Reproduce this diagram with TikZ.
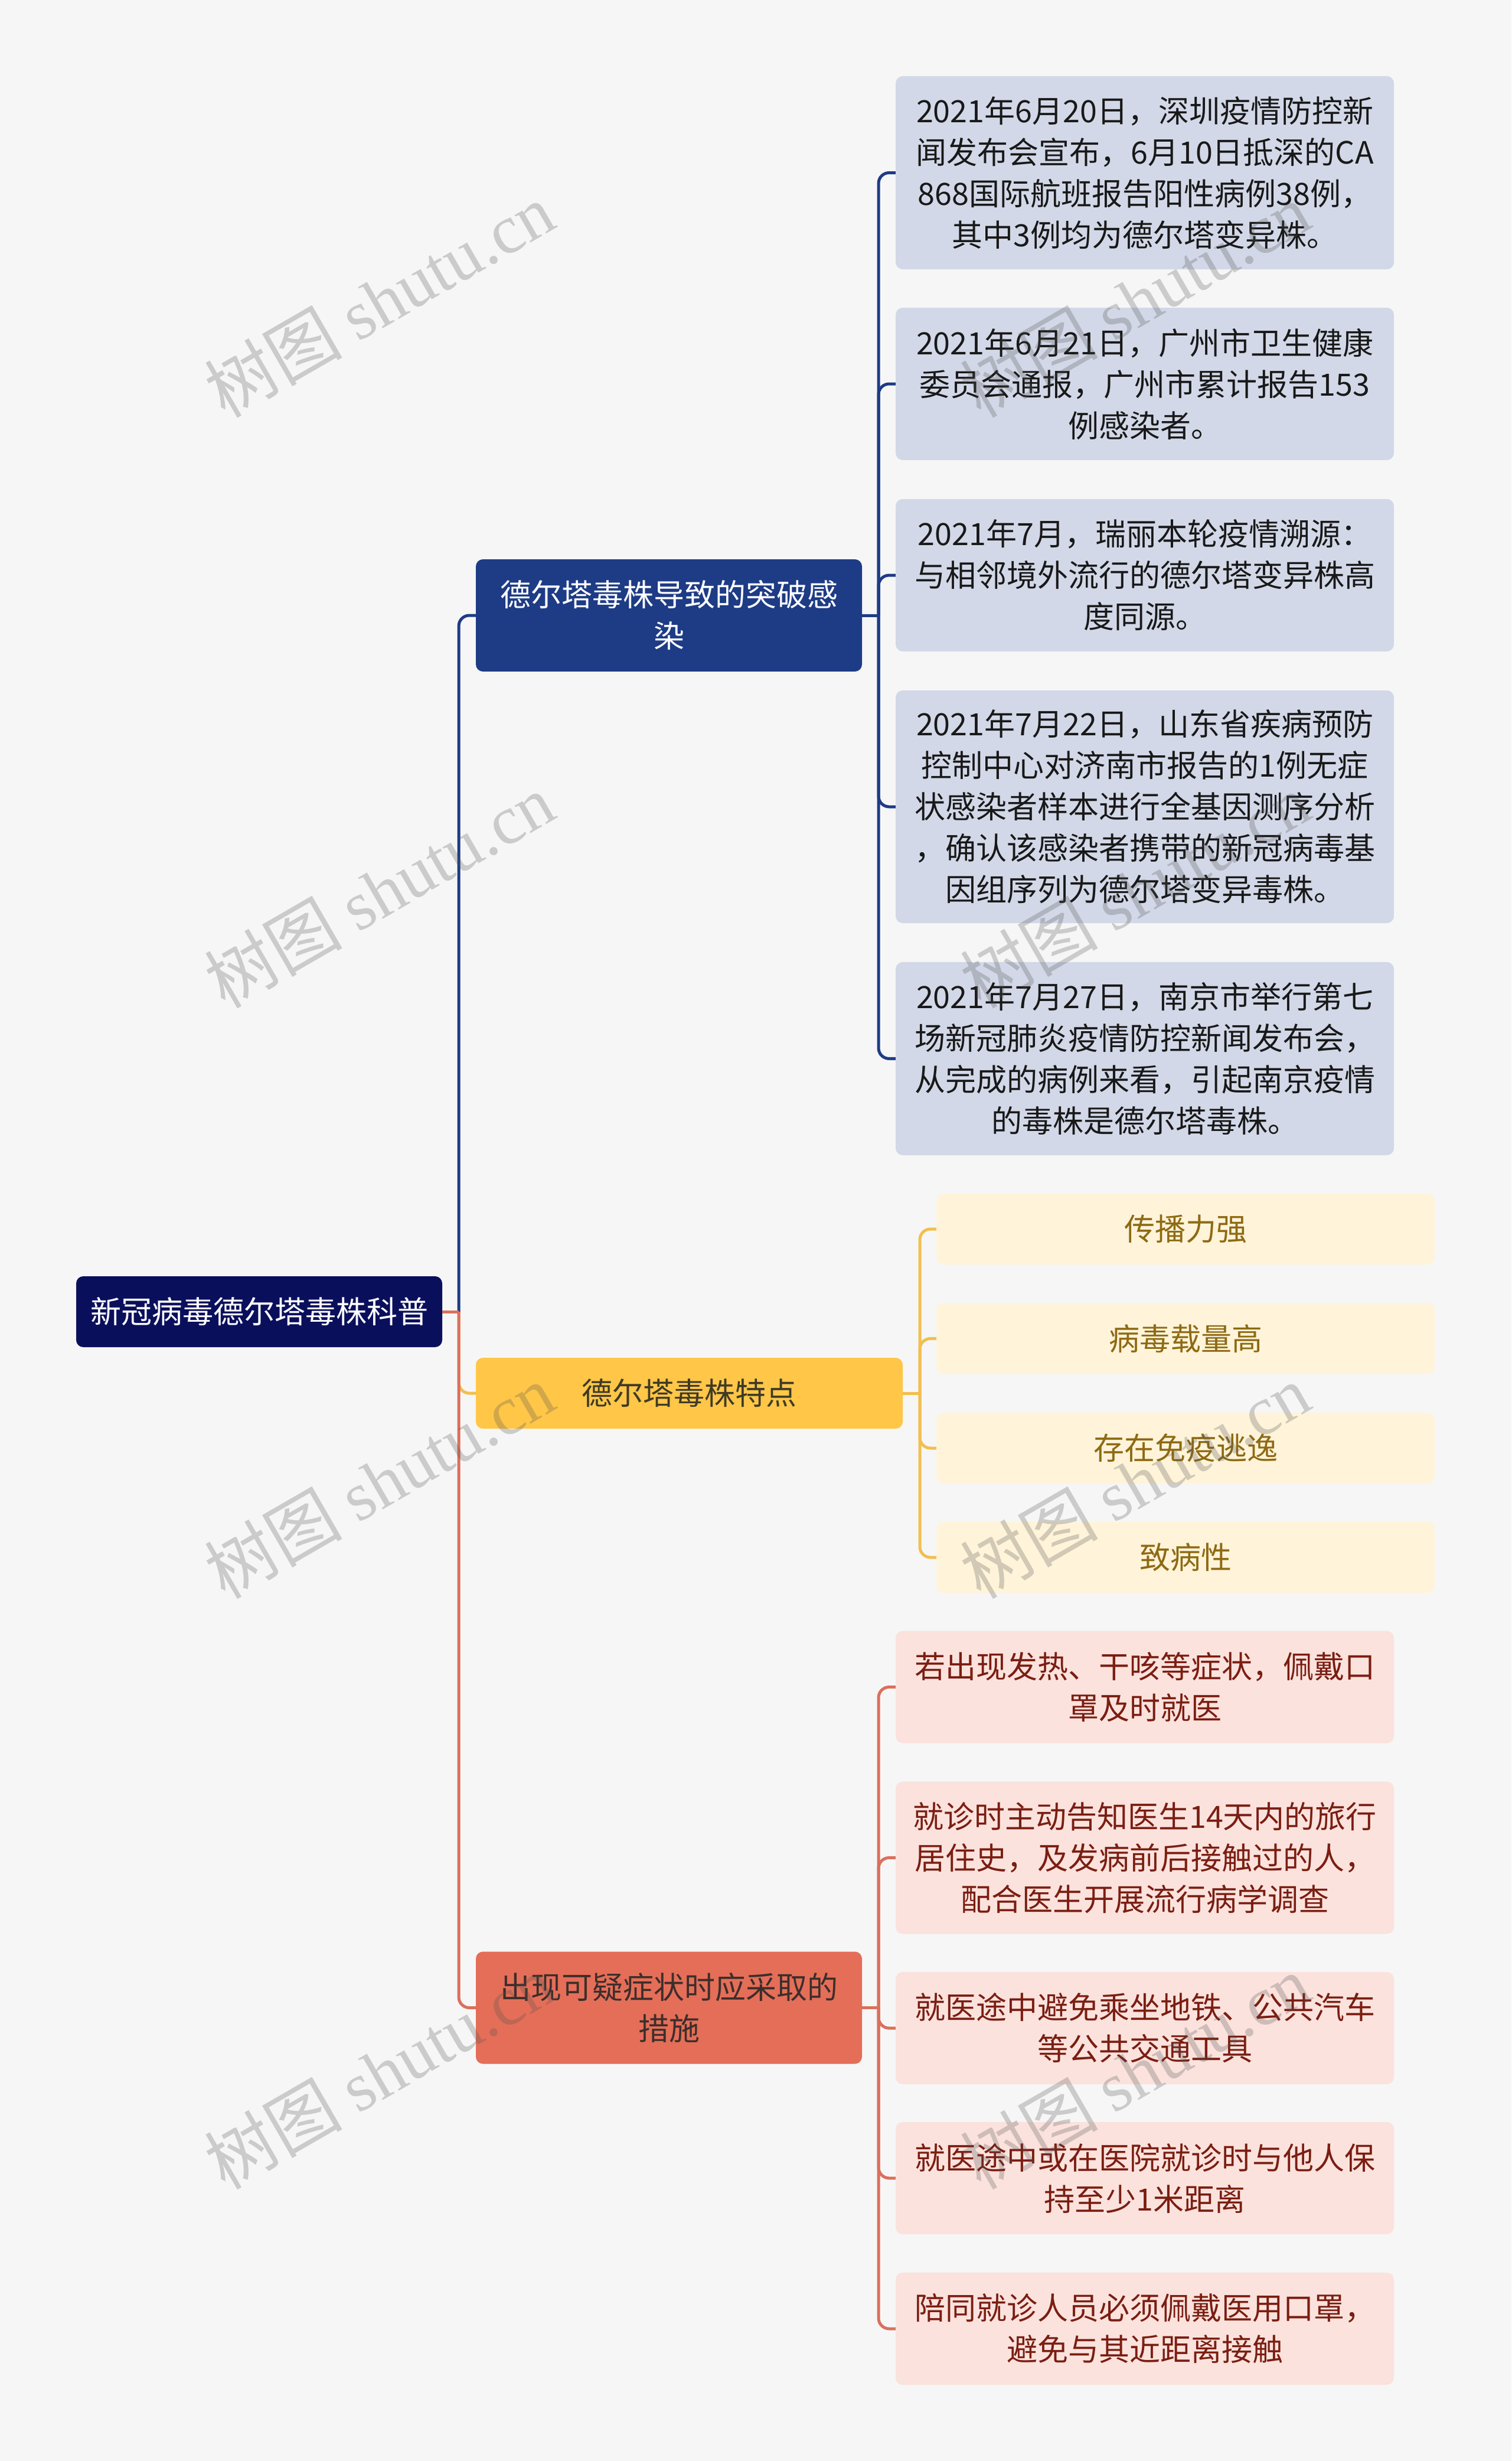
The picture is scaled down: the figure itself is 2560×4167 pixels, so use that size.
\documentclass[tikz,border=0pt]{standalone}
\usepackage{fontspec}
\setmainfont{Noto Sans CJK SC}
\newfontfamily\wmserif{Liberation Serif}

\definecolor{pagebg}{HTML}{F6F6F6}
\definecolor{rootfill}{HTML}{0A0F5C}
\definecolor{bluefill}{HTML}{1E3B85}
\definecolor{yellowfill}{HTML}{FFC648}
\definecolor{redfill}{HTML}{E46E58}
\definecolor{blueleaf}{HTML}{D2D8E7}
\definecolor{yellowleaf}{HTML}{FFF4D9}
\definecolor{redleaf}{HTML}{FBE2DD}
\definecolor{yellowtext}{HTML}{8F6A14}
\definecolor{redtext}{HTML}{7B1E12}
\definecolor{darkbrown}{HTML}{3D2E2B}
\definecolor{darkolive}{HTML}{3F3A25}
\definecolor{wmgray}{HTML}{505050}

\tikzset{
    box/.style={rounded corners=12pt, inner sep=0pt, align=center,
        minimum height=120pt, font=\fontsize{52}{70}\selectfont},
    tworow/.style={minimum height=190pt},
    threerow/.style={minimum height=258pt},
    fourrow/.style={minimum height=327pt},
    fiverow/.style={minimum height=394pt},
    bluenode/.style={box, fill=blueleaf, text=black!90, minimum width=844pt},
    yellownode/.style={box, fill=yellowleaf, text=yellowtext, minimum width=844pt},
    rednode/.style={box, fill=redleaf, text=redtext, minimum width=844pt},
    bluelink/.style={draw=bluefill, line width=5pt},
    yellowlink/.style={draw=yellowfill!90!gray, line width=5pt},
    redlink/.style={draw=redfill!90!gray, line width=5pt},
    wmark/.style={rotate=30, inner sep=0pt, text=wmgray, text opacity=0.26,
        font=\fontsize{117}{117}\selectfont},
}

\begin{document}
\begin{tikzpicture}[x=1pt, y=-1pt]
    \def\leafx{1939} % centre of the blue and red leaves
    \def\yleafx{2008}
    \fill[pagebg] (0,0) rectangle (2560,4167);

    \coordinate (hubroot) at (777,2221);
    \coordinate (hubblue) at (1488,1042);
    \coordinate (hubyellow) at (1558,2359);
    \coordinate (hubred) at (1488,3399.5);

    \node[box, fill=rootfill, text=white, minimum width=620pt] (root) at (439,2221) {新冠病毒德尔塔毒株科普};
    \node[box, tworow, fill=bluefill, text=white, minimum width=654pt] (bluemain) at (1133,1042) {德尔塔毒株导致的突破感\\染};
    \node[box, fill=yellowfill, text=darkolive, minimum width=723pt] (yellowmain) at (1167.5,2359) {德尔塔毒株特点};
    \node[box, tworow, fill=redfill, text=darkbrown, minimum width=654pt] (redmain) at (1133,3399.5) {出现可疑症状时应采取的\\措施};

    \node[bluenode, fourrow] (blueA) at (\leafx,292.5) {2021年6月20日，深圳疫情防控新\\闻发布会宣布，6月10日抵深的CA\\868国际航班报告阳性病例38例，\\其中3例均为德尔塔变异株。};
    \node[bluenode, threerow] (blueB) at (\leafx,650) {2021年6月21日，广州市卫生健康\\委员会通报，广州市累计报告153\\例感染者。};
    \node[bluenode, threerow] (blueC) at (\leafx,974) {2021年7月，瑞丽本轮疫情溯源：\\与相邻境外流行的德尔塔变异株高\\度同源。};
    \node[bluenode, fiverow] (blueD) at (\leafx,1366) {2021年7月22日，山东省疾病预防\\控制中心对济南市报告的1例无症\\状感染者样本进行全基因测序分析\\，确认该感染者携带的新冠病毒基\\因组序列为德尔塔变异毒株。};
    \node[bluenode, fourrow] (blueE) at (\leafx,1792.5) {2021年7月27日，南京市举行第七\\场新冠肺炎疫情防控新闻发布会，\\从完成的病例来看，引起南京疫情\\的毒株是德尔塔毒株。};

    \node[yellownode] (yellowA) at (\yleafx,2081) {传播力强};
    \node[yellownode] (yellowB) at (\yleafx,2266.5) {病毒载量高};
    \node[yellownode] (yellowC) at (\yleafx,2452) {存在免疫逃逸};
    \node[yellownode] (yellowD) at (\yleafx,2637) {致病性};

    \node[rednode, tworow] (redA) at (\leafx,2856.5) {若出现发热、干咳等症状，佩戴口\\罩及时就医};
    \node[rednode, threerow] (redB) at (\leafx,3145.5) {就诊时主动告知医生14天内的旅行\\居住史，及发病前后接触过的人，\\配合医生开展流行病学调查};
    \node[rednode, tworow] (redC) at (\leafx,3434) {就医途中避免乘坐地铁、公共汽车\\等公共交通工具};
    \node[rednode, tworow] (redD) at (\leafx,3688) {就医途中或在医院就诊时与他人保\\持至少1米距离};
    \node[rednode, tworow] (redE) at (\leafx,3943) {陪同就诊人员必须佩戴医用口罩，\\避免与其近距离接触};

    % root to the three branches
    \draw[bluelink, rounded corners=18pt] (hubroot) |- (bluemain.west);
    \draw[yellowlink, rounded corners=18pt] (hubroot) |- (yellowmain.west);
    \draw[redlink, rounded corners=18pt] (hubroot) |- (redmain.west);
    \draw[redlink] (root.east) -- (hubroot);

    % blue leaves
    \draw[bluelink] (bluemain.east) -- (hubblue);
    \draw[bluelink, rounded corners=18pt] (hubblue) |- (blueA.west);
    \draw[bluelink, rounded corners=18pt] (hubblue) |- (blueB.west);
    \draw[bluelink, rounded corners=18pt] (hubblue) |- (blueC.west);
    \draw[bluelink, rounded corners=18pt] (hubblue) |- (blueD.west);
    \draw[bluelink, rounded corners=18pt] (hubblue) |- (blueE.west);

    % yellow leaves
    \draw[yellowlink] (yellowmain.east) -- (hubyellow);
    \draw[yellowlink, rounded corners=18pt] (hubyellow) |- (yellowA.west);
    \draw[yellowlink, rounded corners=18pt] (hubyellow) |- (yellowB.west);
    \draw[yellowlink, rounded corners=18pt] (hubyellow) |- (yellowC.west);
    \draw[yellowlink, rounded corners=18pt] (hubyellow) |- (yellowD.west);

    % red leaves
    \draw[redlink] (redmain.east) -- (hubred);
    \draw[redlink, rounded corners=18pt] (hubred) |- (redA.west);
    \draw[redlink, rounded corners=18pt] (hubred) |- (redB.west);
    \draw[redlink, rounded corners=18pt] (hubred) |- (redC.west);
    \draw[redlink, rounded corners=18pt] (hubred) |- (redD.west);
    \draw[redlink, rounded corners=18pt] (hubred) |- (redE.west);

    % watermark
    \node[wmark] (markA) at (642,508) {树图 {\wmserif shutu.cn}};
    \node[wmark] (markB) at (642,1508) {树图 {\wmserif shutu.cn}};
    \node[wmark] (markC) at (642,2508) {树图 {\wmserif shutu.cn}};
    \node[wmark] (markD) at (642,3508) {树图 {\wmserif shutu.cn}};
    \node[wmark] (markE) at (1922,508) {树图 {\wmserif shutu.cn}};
    \node[wmark] (markF) at (1922,1508) {树图 {\wmserif shutu.cn}};
    \node[wmark] (markG) at (1922,2508) {树图 {\wmserif shutu.cn}};
    \node[wmark] (markH) at (1922,3508) {树图 {\wmserif shutu.cn}};
\end{tikzpicture}
\end{document}
